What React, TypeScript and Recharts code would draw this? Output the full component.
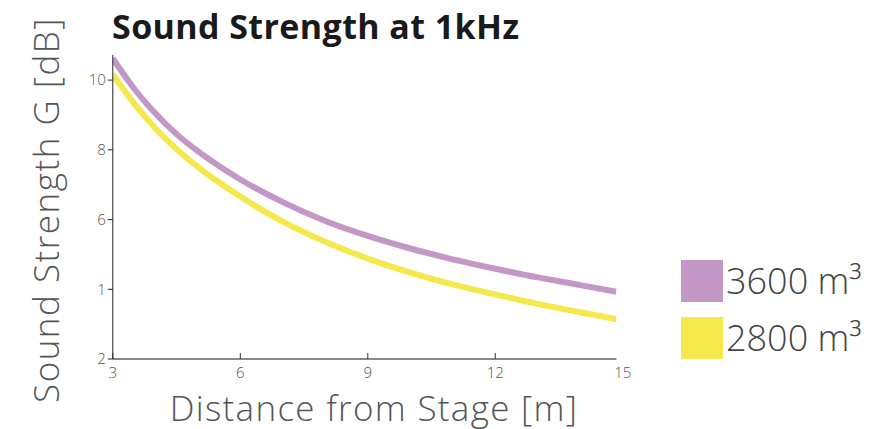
import { LineChart, Line, XAxis, YAxis } from "recharts"

const distances = [3, 3.5, 4, 4.5, 5, 6, 7, 8, 9, 10, 11, 12, 13, 14, 14.85]
const g3600 = [10.62, 9.76, 9.05, 8.45, 7.96, 7.15, 6.5, 5.96, 5.53, 5.17, 4.86, 4.59, 4.34, 4.12, 3.93]
const g2800 = [10.16, 9.33, 8.62, 8.02, 7.51, 6.66, 5.94, 5.36, 4.88, 4.48, 4.14, 3.85, 3.58, 3.34, 3.14]

const xTicks = [3, 6, 9, 12, 15]
const yTicks = [2, 4, 6, 8, 10]
const yTickLabels = ["2", "1", "6", "8", "10"]
const X_MAX = 14.85

const series = [
  { key: "v3600", name: "3600 m³", color: "#c398c7" },
  { key: "v2800", name: "2800 m³", color: "#f5e84c" },
]

const data = distances.map((d, i) => ({ d, v3600: g3600[i], v2800: g2800[i] }))

const FONT = "'Open Sans', sans-serif"

function XTick({ x, y, payload }: any) {
  return (
    <g>
      {payload.value <= X_MAX && <line x1={x} x2={x} y1={y} y2={y - 6} stroke="#333" strokeWidth={1} />}
      <text x={x} y={y + 19} textAnchor="middle" fill="#555" fontSize={15} fontFamily={FONT} fontWeight={300}>
        {payload.value}
      </text>
    </g>
  )
}

export default function App() {
  return (
    <div style={{ position: "absolute", left: 0, top: 0, width: 883, height: 429, background: "#fff" }}>
      <div
        style={{
          position: "absolute",
          left: 112,
          top: 3,
          fontFamily: FONT,
          fontWeight: 700,
          fontSize: 34,
          letterSpacing: 0.4,
          color: "#1a1a1a",
          whiteSpace: "nowrap",
        }}
      >
        Sound Strength at 1kHz
      </div>
      <div
        style={{
          position: "absolute",
          left: 45,
          top: 210,
          transform: "translate(-50%, -50%) rotate(-90deg)",
          fontFamily: FONT,
          fontWeight: 300,
          fontSize: 35,
          letterSpacing: 1.5,
          color: "#555",
          whiteSpace: "nowrap",
        }}
      >
        Sound Strength G [dB]
      </div>
      <div
        style={{
          position: "absolute",
          left: 374,
          top: 407,
          transform: "translate(-50%, -50%)",
          fontFamily: FONT,
          fontWeight: 300,
          fontSize: 35,
          letterSpacing: 1.3,
          color: "#555",
          whiteSpace: "nowrap",
        }}
      >
        Distance from Stage [m]
      </div>
      <div style={{ position: "absolute", left: 681, top: 252, fontFamily: FONT }}>
        {series.map((s) => (
          <div key={s.key} style={{ display: "flex", alignItems: "center", height: 57 }}>
            <div style={{ width: 42, height: 42, background: s.color }} />
            <span style={{ fontSize: 36, fontWeight: 300, color: "#444", marginLeft: 3, lineHeight: 1 }}>{s.name}</span>
          </div>
        ))}
      </div>
      <LineChart
        width={883}
        height={429}
        data={data}
        margin={{ top: 55, right: 266.6, left: 72.8, bottom: 40 }}
        style={{ position: "absolute", left: 0, top: 0 }}
      >
        <XAxis
          dataKey="d"
          type="number"
          domain={[3, X_MAX]}
          allowDataOverflow
          ticks={xTicks}
          tickSize={0}
          tickMargin={0}
          height={30}
          axisLine={{ stroke: "#888", strokeWidth: 2 }}
          tick={<XTick />}
          interval={0}
        />
        <YAxis
          type="number"
          domain={[2, 10.72]}
          ticks={yTicks}
          width={40}
          allowDataOverflow
          tickSize={5}
          tickMargin={2}
          axisLine={{ stroke: "#222", strokeWidth: 1 }}
          tickLine={{ stroke: "#222" }}
          tickFormatter={(v: number) => yTickLabels[yTicks.indexOf(v)]}
          tick={{ fill: "#555", fontSize: 15, fontFamily: FONT, fontWeight: 300 }}
        />
        {series.map((s) => (
          <Line
            key={s.key}
            type="monotone"
            dataKey={s.key}
            name={s.name}
            stroke={s.color}
            strokeWidth={6}
            dot={false}
            isAnimationActive={false}
          />
        ))}
      </LineChart>
    </div>
  )
}
